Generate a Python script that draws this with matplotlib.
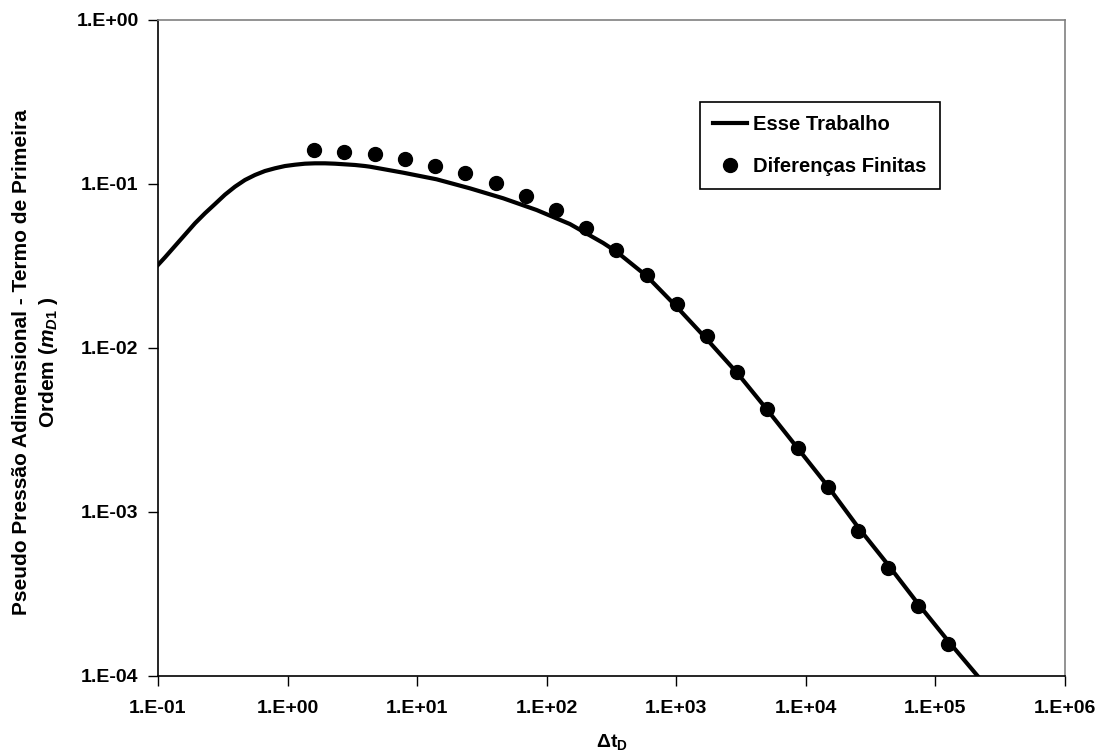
import matplotlib
matplotlib.use("Agg")
import matplotlib.pyplot as plt
from matplotlib.ticker import NullLocator

plt.rcParams['font.family'] = ['Liberation Sans', 'DejaVu Sans']
plt.rcParams['font.weight'] = 'bold'
plt.rcParams['mathtext.fontset'] = 'custom'
plt.rcParams['mathtext.rm'] = 'Liberation Sans:bold'
plt.rcParams['mathtext.bf'] = 'Liberation Sans:bold'
plt.rcParams['mathtext.it'] = 'Liberation Sans:bold:italic'

# solucao analitica (Esse Trabalho)
dt_line = [0.1, 0.1132, 0.1353, 0.1615, 0.193, 0.2305, 0.2754, 0.3289, 0.3927,
           0.469, 0.5603, 0.669, 0.7995, 0.955, 1.141, 1.362, 1.627, 1.944,
           2.322, 2.773, 3.313, 3.956, 4.323, 7.81, 14.14, 25.55, 46.2, 83.6,
           151, 273, 348, 590, 1005, 1722, 2967, 5054, 8659, 14730, 25230,
           43250, 73700, 125400, 228000]
md1_line = [0.0321, 0.0357, 0.0419, 0.0491, 0.0576, 0.0663, 0.0755, 0.0861,
            0.0963, 0.1058, 0.1135, 0.1200, 0.1247, 0.1287, 0.1311, 0.1330,
            0.1337, 0.1337, 0.1330, 0.1318, 0.1306, 0.1287, 0.1275, 0.1172,
            0.1068, 0.0941, 0.0818, 0.0694, 0.0570, 0.04367, 0.0385, 0.0275,
            0.01786, 0.0113, 0.00701, 0.00418, 0.002446, 0.00144, 0.00081,
            0.000475, 0.0002748, 0.0001634, 0.0000933]

# simulador numerico (Diferencas Finitas)
dt_fd = [1.61, 2.74, 4.72, 8.05, 13.7, 23.4, 40.4, 69.2, 117, 200, 344, 590,
         1005, 1722, 2951, 5054, 8659, 14730, 25200, 43250, 73700, 125400]
md1_fd = [0.161, 0.157, 0.152, 0.1415, 0.129, 0.116, 0.101, 0.0845, 0.0694,
          0.0537, 0.0396, 0.0279, 0.0185, 0.0119, 0.00717, 0.00423, 0.00245,
          0.001426, 0.000766, 0.000454, 0.000267, 0.000156]

xticks = [1e-1, 1e0, 1e1, 1e2, 1e3, 1e4, 1e5, 1e6]
xlabels = ['1.E-01', '1.E+00', '1.E+01', '1.E+02', '1.E+03', '1.E+04',
           '1.E+05', '1.E+06']
yticks = [1e-4, 1e-3, 1e-2, 1e-1, 1e0]
ylabels = ['1.E-04', '1.E-03', '1.E-02', '1.E-01', '1.E+00']

fig = plt.figure(figsize=(11.04, 7.55), dpi=100)
ax = fig.add_axes([158 / 1104, 1 - 676 / 755, (1065 - 158) / 1104, (676 - 20) / 755])

ax.plot(dt_line, md1_line, color='black', lw=3, zorder=3,
        solid_joinstyle='round', label='Esse Trabalho')
ax.plot(dt_fd, md1_fd, ls='none', marker='o', ms=10, color='black', zorder=2,
        label='Diferenças Finitas')

ax.set_xscale('log')
ax.set_yscale('log')
ax.set_xlim(1e-1, 1e6)
ax.set_ylim(1e-4, 1e0)
ax.set_xticks(xticks, xlabels)
ax.set_yticks(yticks, ylabels)
ax.xaxis.set_minor_locator(NullLocator())
ax.yaxis.set_minor_locator(NullLocator())
ax.tick_params(axis='both', direction='out', length=7, width=1,
               labelsize=14, color='black')
ax.tick_params(axis='x', pad=10)
ax.tick_params(axis='y', pad=7)

for s in ['top', 'right']:
    ax.spines[s].set_color('#808080')
    ax.spines[s].set_linewidth(1.2)
for s in ['left', 'bottom']:
    ax.spines[s].set_color('black')
    ax.spines[s].set_linewidth(1.2)

ax.set_xlabel(r'Δt$_{\mathbf{D}}$', fontsize=14, fontweight='bold', labelpad=11)
ax.set_ylabel('Pseudo Pressão Adimensional - Termo de Primeira\n'
              r'Ordem ($\mathit{m}_{\mathit{D1}}$ )',
              fontsize=15, fontweight='bold', linespacing=1.35)
ax.yaxis.set_label_coords((60 - 158) / 907, (676 - 362) / 656)

leg = ax.legend(loc='upper left', bbox_to_anchor=(700 / 1104, 1 - 102 / 755),
                bbox_transform=fig.transFigure, fancybox=False, framealpha=1,
                edgecolor='black', fontsize=14.5, handlelength=1.7,
                handletextpad=0.3, labelspacing=1.15, borderpad=0.65,
                borderaxespad=0)
leg.get_frame().set_linewidth(1.2)
for t in leg.get_texts():
    t.set_fontweight('bold')

fig.savefig('out.png', dpi=100, facecolor='white')
